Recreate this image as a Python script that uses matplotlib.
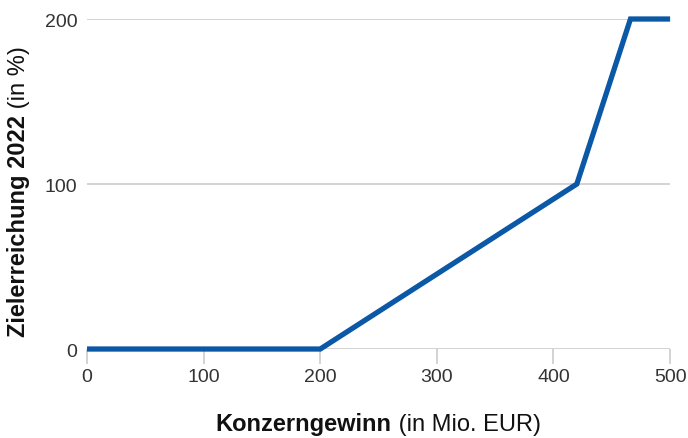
import matplotlib
matplotlib.use("Agg")
import matplotlib.pyplot as plt
from matplotlib.offsetbox import TextArea, HPacker, VPacker, AnchoredOffsetbox

gewinn = [0, 200, 420, 466, 500]
zielerreichung = [0, 0, 100, 200, 200]
x_ticks = [0, 100, 200, 300, 400, 500]
y_ticks = [0, 100, 200]

plt.rcParams['font.family'] = ['Liberation Sans', 'DejaVu Sans']

fig = plt.figure(figsize=(6.88, 4.39), dpi=100)
ax = fig.add_axes([0.1265, 0.2027, 0.974 - 0.1265, 0.9544 - 0.2027])

for y in y_ticks:
    ax.axhline(y, color='#cccccc', lw=1.2, zorder=1)

ax.plot(gewinn, zielerreichung, color='#0a58a6', lw=3.8, solid_joinstyle='miter',
        solid_capstyle='butt', zorder=3, clip_on=False)

ax.set_xlim(0, 500)
ax.set_ylim(0, 200)
ax.set_xticks(x_ticks)
ax.set_yticks(y_ticks)
for s in ax.spines.values():
    s.set_visible(False)
ax.tick_params(axis='x', length=11, width=1.2, color='#cccccc', labelsize=14,
               labelcolor='#333333', pad=3)
ax.tick_params(axis='y', length=0, labelsize=14, labelcolor='#333333', pad=7)

t1 = TextArea('Konzerngewinn', textprops=dict(fontsize=17, fontweight='bold', color='#111111'))
t2 = TextArea(' (in Mio. EUR)', textprops=dict(fontsize=17, color='#111111'))
box = HPacker(children=[t1, t2], align='baseline', pad=0, sep=0)
ab = AnchoredOffsetbox(loc='center', child=box, frameon=False,
                       bbox_to_anchor=(378 / 688, 1 - 425 / 439),
                       bbox_transform=fig.transFigure, borderpad=0)
fig.add_artist(ab)

v1 = TextArea('Zielerreichung 2022', textprops=dict(fontsize=17, fontweight='bold', color='#111111', rotation=90))
v2 = TextArea(' (in %)', textprops=dict(fontsize=17, color='#111111', rotation=90))
vbox = VPacker(children=[v2, v1], align='center', pad=0, sep=0)
ab2 = AnchoredOffsetbox(loc='center', child=vbox, frameon=False,
                        bbox_to_anchor=(19 / 688, 1 - 192 / 439),
                        bbox_transform=fig.transFigure, borderpad=0)
fig.add_artist(ab2)

fig.savefig('out.png', dpi=100)
